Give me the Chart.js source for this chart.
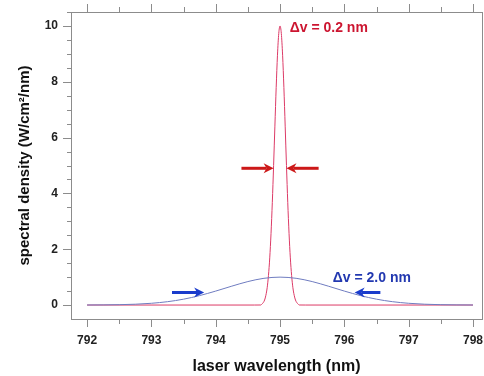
<!DOCTYPE html>
<html>
<head>
<meta charset="utf-8">
<script src="https://cdn.jsdelivr.net/npm/chart.js@4/dist/chart.umd.min.js"></script>
<style>
html,body{margin:0;padding:0;background:#fff;}
#wrap{width:484px;height:376px;position:relative;}
</style>
</head>
<body>
<div id="wrap"><canvas id="c"></canvas></div>
<script>
// Narrow line (Δv = 0.2 nm)
const narrowWavelength = [792, 794.6, 794.7, 794.72, 794.74, 794.76, 794.78, 794.8, 794.82, 794.84, 794.86, 794.88, 794.9, 794.92, 794.94, 794.96, 794.98, 795,
  795.02, 795.04, 795.06, 795.08, 795.1, 795.12, 795.14, 795.16, 795.18, 795.2, 795.22, 795.24, 795.26, 795.28, 795.3, 795.4, 798];
const narrowDensity = [0, 0, 0.002, 0.04, 0.09, 0.18, 0.35, 0.62, 1.06, 1.69, 2.57, 3.68, 5.0, 6.41, 7.79, 8.95, 9.73, 10,
  9.73, 8.95, 7.79, 6.41, 5.0, 3.68, 2.57, 1.69, 1.06, 0.62, 0.35, 0.18, 0.09, 0.04, 0.002, 0, 0];
// Broad line (Δv = 2.0 nm)
const broadWavelength = [792, 792.25, 792.5, 792.75, 793, 793.25, 793.5, 793.75, 794, 794.25, 794.5, 794.75, 795,
  795.25, 795.5, 795.75, 796, 796.25, 796.5, 796.75, 797, 797.25, 797.5, 797.75, 798];
const broadDensity = [0.002, 0.005, 0.013, 0.03, 0.063, 0.12, 0.21, 0.339, 0.5, 0.677, 0.841, 0.958, 1.0,
  0.958, 0.841, 0.677, 0.5, 0.339, 0.21, 0.12, 0.063, 0.03, 0.013, 0.005, 0.002];
// Axis ticks
const xMajorTicks = [792, 793, 794, 795, 796, 797, 798];
const xMinorTicks = [792.5, 793.5, 794.5, 795.5, 796.5, 797.5];
const yMajorTicks = [0, 2, 4, 6, 8, 10];
const yMinorTicks = [0.5, 1, 1.5, 2.5, 3, 3.5, 4.5, 5, 5.5, 6.5, 7, 7.5, 8.5, 9, 9.5, 10.5];
// Width markers: [from, to] in nm, at height y
const narrowArrows = [[794.4, 794.9], [795.6, 795.1]];
const narrowArrowY = 4.9;
const broadArrows = [[793.32, 793.82], [796.56, 796.16]];
const broadArrowY = 0.45;
const narrowLabel = {text: 'Δv = 0.2 nm', x: 795.15, y: 9.93};
const broadLabel = {text: 'Δv = 2.0 nm', x: 795.82, y: 0.97};

const FONT = '"Liberation Sans", Arial, sans-serif';

const decor = {
  id: 'decor',
  afterDraw(chart) {
    const {ctx, chartArea: a, scales: {x, y}} = chart;
    ctx.save();
    ctx.strokeStyle = '#8c8c8c';
    ctx.lineWidth = 1;
    ctx.strokeRect(a.left + 0.5, a.top + 0.5, a.right - a.left, a.bottom - a.top);
    ctx.beginPath();
    const xt = (v, len) => {
      const p = Math.round(x.getPixelForValue(v)) + 0.5;
      ctx.moveTo(p, a.bottom); ctx.lineTo(p, a.bottom + len);
      ctx.moveTo(p, a.top); ctx.lineTo(p, a.top - len);
    };
    const yt = (v, len) => {
      const p = Math.round(y.getPixelForValue(v)) + 0.5;
      ctx.moveTo(a.left, p); ctx.lineTo(a.left - len, p);
    };
    xMajorTicks.forEach(v => xt(v, 8));
    xMinorTicks.forEach(v => xt(v, 5));
    yMajorTicks.forEach(v => yt(v, 8));
    yMinorTicks.forEach(v => yt(v, 4));
    ctx.stroke();

    const arrow = (x0, x1, yv, color) => {
      const p0 = x.getPixelForValue(x0), p1 = x.getPixelForValue(x1), py = y.getPixelForValue(yv);
      const dir = Math.sign(p1 - p0);
      const head = 10;
      ctx.strokeStyle = color; ctx.fillStyle = color;
      ctx.lineWidth = 3;
      ctx.beginPath();
      ctx.moveTo(p0, py); ctx.lineTo(p1 - dir * head * 0.7, py);
      ctx.stroke();
      ctx.beginPath();
      ctx.moveTo(p1, py);
      ctx.lineTo(p1 - dir * head, py - 5);
      ctx.lineTo(p1 - dir * head * 0.7, py);
      ctx.lineTo(p1 - dir * head, py + 5);
      ctx.closePath();
      ctx.fill();
    };
    narrowArrows.forEach(([f, t]) => arrow(f, t, narrowArrowY, '#cc1818'));
    broadArrows.forEach(([f, t]) => arrow(f, t, broadArrowY, '#1a3ccc'));

    ctx.font = 'bold 14px ' + FONT;
    ctx.textBaseline = 'middle';
    ctx.textAlign = 'left';
    ctx.fillStyle = '#cc1530';
    ctx.fillText(narrowLabel.text, x.getPixelForValue(narrowLabel.x), y.getPixelForValue(narrowLabel.y));
    ctx.fillStyle = '#2238b0';
    ctx.fillText(broadLabel.text, x.getPixelForValue(broadLabel.x), y.getPixelForValue(broadLabel.y));
    ctx.restore();
  }
};

new Chart(document.getElementById('c'), {
  type: 'line',
  data: {
    datasets: [
      {
        label: 'broad',
        data: broadWavelength.map((w, i) => ({x: w, y: broadDensity[i]})),
        borderColor: '#6f7cc0',
        borderWidth: 1,
        pointRadius: 0,
        cubicInterpolationMode: 'monotone',
        fill: false
      },
      {
        label: 'narrow',
        data: narrowWavelength.map((w, i) => ({x: w, y: narrowDensity[i]})),
        borderColor: '#dc3a66',
        borderWidth: 1,
        pointRadius: 0,
        cubicInterpolationMode: 'monotone',
        fill: false
      }
    ]
  },
  options: {
    responsive: true,
    maintainAspectRatio: false,
    animation: false,
    layout: {padding: {top: 12, right: 2, left: 0, bottom: 0}},
    plugins: {legend: {display: false}, tooltip: {enabled: false}},
    scales: {
      x: {
        type: 'linear',
        min: 791.75,
        max: 798.14,
        afterBuildTicks: s => { s.ticks = xMajorTicks.map(v => ({value: v})); },
        afterFit: s => { s.height = 57; s.paddingLeft = 0; s.paddingRight = 0; },
        grid: {display: false, drawTicks: false},
        border: {display: false},
        ticks: {
          padding: 14,
          color: '#222',
          font: {family: FONT, size: 12, weight: 'bold'},
          maxRotation: 0,
          callback: v => String(v)
        },
        title: {
          display: true,
          text: 'laser wavelength (nm)',
          color: '#111',
          font: {family: FONT, size: 16, weight: 'bold'},
          padding: {top: 6, bottom: 0}
        }
      },
      y: {
        type: 'linear',
        min: -0.5,
        max: 10.5,
        afterBuildTicks: s => { s.ticks = yMajorTicks.map(v => ({value: v})); },
        afterFit: s => { s.width = 71; s.paddingTop = 0; s.paddingBottom = 0; },
        grid: {display: false, drawTicks: false},
        border: {display: false},
        ticks: {
          padding: 13,
          color: '#222',
          font: {family: FONT, size: 12, weight: 'bold'},
          callback: v => String(v)
        },
        title: {
          display: true,
          text: 'spectral density (W/cm²/nm)',
          color: '#111',
          font: {family: FONT, size: 15, weight: 'bold'},
          padding: {top: 16, bottom: 0}
        }
      }
    }
  },
  plugins: [decor]
});
</script>
</body>
</html>
